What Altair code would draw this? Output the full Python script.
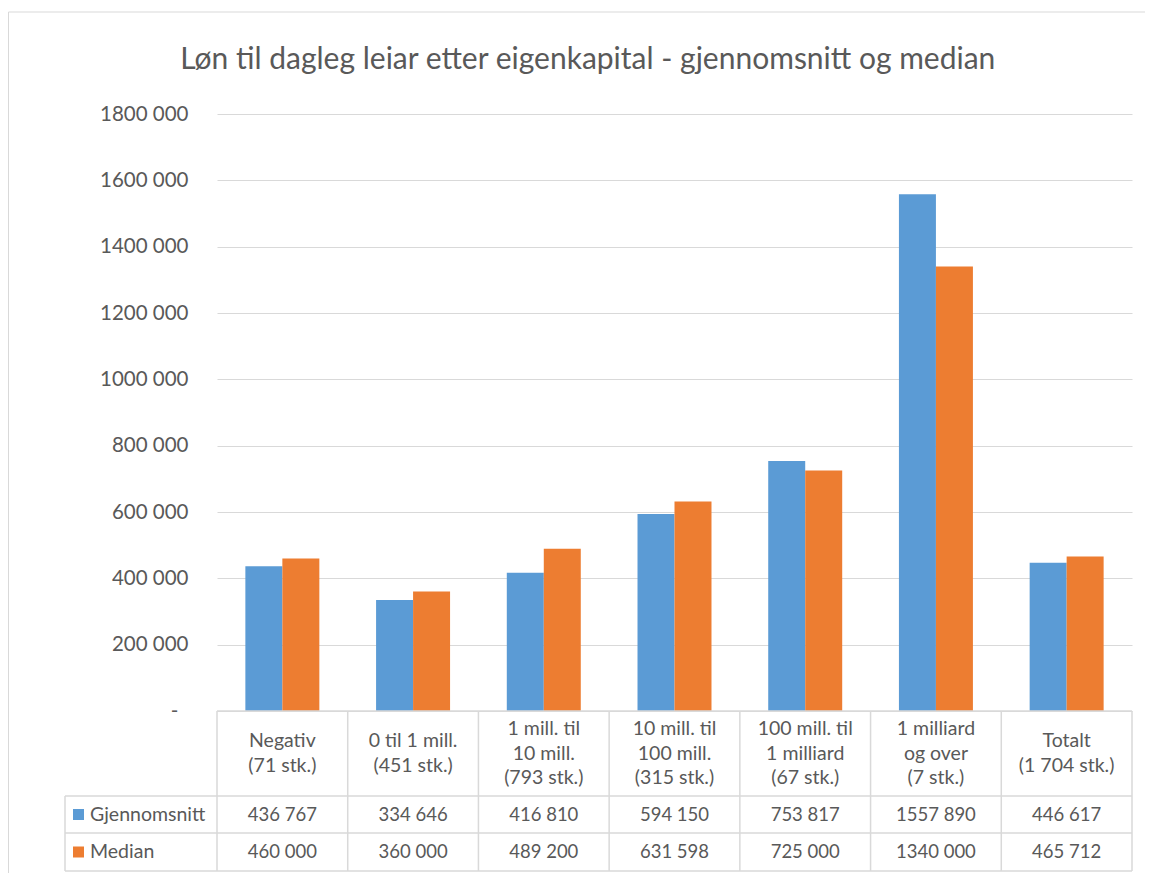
import altair as alt
import pandas as pd

# ---- data ----
categories = [
    "Negativ\n(71 stk.)",
    "0 til 1 mill.\n(451 stk.)",
    "1 mill. til\n10 mill.\n(793 stk.)",
    "10 mill. til\n100 mill.\n(315 stk.)",
    "100 mill. til\n1 milliard\n(67 stk.)",
    "1 milliard\nog over\n(7 stk.)",
    "Totalt\n(1 704 stk.)",
]
series = ["Gjennomsnitt", "Median"]
gjennomsnitt = [436767, 334646, 416810, 594150, 753817, 1557890, 446617]
median = [460000, 360000, 489200, 631598, 725000, 1340000, 465712]
colors = ["#5B9BD5", "#ED7D31"]
y_ticks = [0, 200000, 400000, 600000, 800000, 1000000, 1200000, 1400000, 1600000, 1800000]
title_text = "Løn til dagleg leiar etter eigenkapital - gjennomsnitt og median"


def fmt(v):
    if v >= 1000:
        return f"{v // 1000} {v % 1000:03d}"
    return str(v)


rows = []
for s, vals in zip(series, [gjennomsnitt, median]):
    for c, v in zip(categories, vals):
        rows.append({"cat": c, "series": s, "value": v, "label": fmt(v)})
df = pd.DataFrame(rows)
cat_df = pd.DataFrame({"cat": categories, "nlines": [c.count("\n") + 1 for c in categories]})

# ---- layout ----
W, H = 915, 597
FONT = "Lato"
TXT = "#595959"
LINE = "#D9D9D9"
step = W / len(categories)
row1_y, row2_y, row3_y = H + 85, H + 122, H + 160   # table row lines
left_col = -152
FS_NUM = 18.5
FS_TXT = 19.5
LH = 24.5

x_enc = alt.X(
    "cat:N",
    sort=categories,
    scale=alt.Scale(paddingInner=0.434, paddingOuter=0.217),
    axis=None,
)
color_enc = alt.Color(
    "series:N",
    scale=alt.Scale(domain=series, range=colors),
    legend=None,
)

bars = alt.Chart(df).mark_bar().encode(
    x=x_enc,
    xOffset=alt.XOffset("series:N", sort=series),
    y=alt.Y(
        "value:Q",
        scale=alt.Scale(domain=[0, 1800000], nice=False),
        axis=alt.Axis(
            values=y_ticks,
            labelExpr="datum.value == 0 ? '-\u2002\u200b' : format(floor(datum.value/1000), 'd') + ' 000'",
            title=None,
            ticks=False,
            domain=False,
            labelPadding=29,
            labelFontSize=20.5,
            labelColor=TXT,
            labelFont=FONT,
            gridColor=LINE,
            gridWidth=1.2,
        ),
    ),
    color=color_enc,
)

layers = [bars]

# title as text
layers.append(
    alt.Chart(cat_df.head(1)).mark_text(
        text=title_text, fontSize=30, font=FONT, color=TXT, align="center", baseline="alphabetic"
    ).encode(x=alt.value(370.8), y=alt.value(-44.7))
)

# header text in table (multi-line, block centred in the header row)
header_mid = H + 42.5
for n in sorted(cat_df["nlines"].unique()):
    sub = cat_df[cat_df["nlines"] == n]
    layers.append(
        alt.Chart(sub).mark_text(
            lineBreak="\n", baseline="middle", align="center", fontSize=FS_TXT,
            font=FONT, color=TXT, lineHeight=LH,
        ).encode(
            x=alt.X("cat:N", sort=categories, bandPosition=0.5),
            y=alt.value(header_mid - (n - 1) * LH / 2),
            text="cat:N",
        )
    )

row_centers = [(row1_y + row2_y) / 2, (row2_y + row3_y) / 2]
for s, yc in zip(series, row_centers):
    sub = df[df["series"] == s]
    layers.append(
        alt.Chart(sub).mark_text(
            baseline="middle", align="center", fontSize=FS_NUM, font=FONT, color=TXT
        ).encode(x=alt.X("cat:N", sort=categories, bandPosition=0.5), y=alt.value(yc), text="label:N")
    )
    sdf = pd.DataFrame({"series": [s]})
    layers.append(
        alt.Chart(sdf).mark_text(
            baseline="middle", align="left", fontSize=FS_TXT, font=FONT, color=TXT
        ).encode(x=alt.value(-127), y=alt.value(yc), text="series:N")
    )
    layers.append(
        alt.Chart(sdf).mark_square(filled=True, size=121, opacity=1).encode(
            x=alt.value(-138.5), y=alt.value(yc), color=color_enc
        )
    )

# table lines and chart border (decoration)
segments = [
    (0, W, H, H),
    (left_col, W, row1_y, row1_y),
    (left_col, W, row2_y, row2_y),
    (left_col, W, row3_y, row3_y),
    (left_col, left_col, row1_y, row3_y),
]
for i in range(len(categories) + 1):
    segments.append((i * step, i * step, H, row3_y))
for (x1, x2, y1, y2) in segments:
    layers.append(
        alt.Chart(cat_df.head(1)).mark_rule(color=LINE, strokeWidth=1.5).encode(
            x=alt.value(x1), x2=alt.value(x2), y=alt.value(y1), y2=alt.value(y2)
        )
    )
# outer border (left and top)
for (x1, x2, y1, y2) in [(-208.5, W + 200, -102, -102), (-208.5, -208.5, -102, H + 300)]:
    layers.append(
        alt.Chart(cat_df.head(1)).mark_rule(color=LINE, strokeWidth=1).encode(
            x=alt.value(x1), x2=alt.value(x2), y=alt.value(y1), y2=alt.value(y2)
        )
    )

chart = alt.layer(*layers).properties(
    width=W,
    height=H,
    autosize=alt.AutoSizeParams(type="none"),
    padding={"left": 209, "top": 106, "right": 13, "bottom": 162},
).configure(background="white", view=alt.ViewConfig(strokeWidth=0))

chart.save("out.html", embed_options={"renderer": "svg", "actions": False})
